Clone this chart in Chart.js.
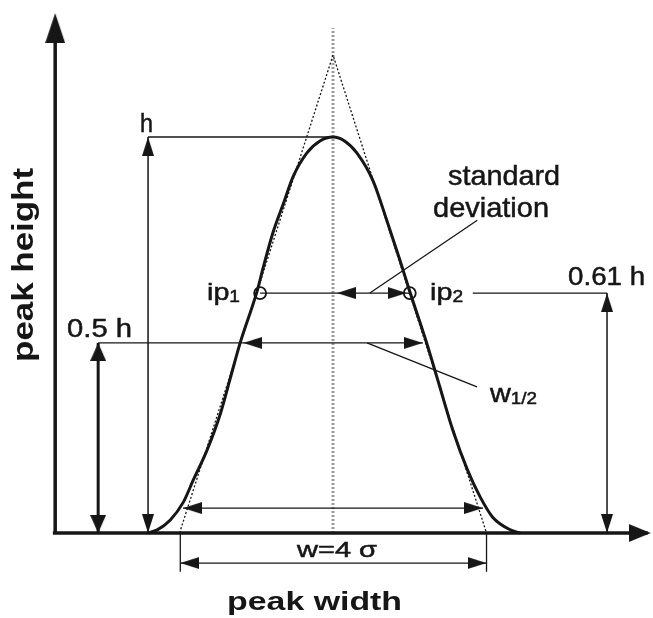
<!DOCTYPE html>
<html>
<head>
<meta charset="utf-8">
<script src="https://cdn.jsdelivr.net/npm/chart.js@4/dist/chart.umd.min.js"></script>
<style>
  html, body { margin: 0; padding: 0; background: #fff; }
  #wrap { width: 653px; height: 618px; }
</style>
</head>
<body>
<div id="wrap"><canvas id="peak_chart"></canvas></div>
<script>
// x is in units of sigma (0 = peak centre), y is in units of the peak height h
const curveX = [-2.42, -2.29, -2.12, -1.95, -1.82, -1.64, -1.47, -1.34, -1.21, -0.99, -0.91, -0.78, -0.65, -0.52, -0.34, -0.17, 0,
  0.15, 0.31, 0.52, 0.70, 0.87, 1.0, 1.22, 1.39, 1.56, 1.75, 1.92, 2.08, 2.31, 2.44];
const curveY = [0, 0.008, 0.033, 0.078, 0.134, 0.21, 0.30, 0.39, 0.48, 0.61, 0.67, 0.76, 0.83, 0.90, 0.96, 0.99, 1.0,
  0.99, 0.96, 0.89, 0.79, 0.69, 0.61, 0.48, 0.37, 0.26, 0.16, 0.09, 0.04, 0.008, 0];

const tangent = [[-2.0, 0], [0, 1.207], [2.0, 0]];
const centreLine = [[0, 0], [0, 1.275]];
const axisY = [[-3.62, 0], [-3.62, 1.27]];
const axisX = [[-3.65, 0], [4.1, 0]];

const hGuide = [[-2.41, 1.0], [0, 1.0]];
const hDim = [[-2.41, 1.0], [-2.41, 0]];
const halfGuide = [[-3.06, 0.48], [1.17, 0.48]];
const halfDim = [[-3.06, 0.48], [-3.06, 0]];
const ipGuide = [[-0.95, 0.606], [1.0, 0.606]];
const ipRightGuide = [[1.82, 0.606], [3.57, 0.606]];
const ipDim = [[3.57, 0.606], [3.57, 0]];
const sdLeader = [[1.88, 0.79], [0.48, 0.606]];
const halfLeader = [[0.443, 0.48], [1.876, 0.369]];
const baseDim = [[-1.954, 0.063], [1.954, 0.063]];
const wTickLeft = [[-1.99, 0], [-1.99, -0.098]];
const wTickRight = [[2.0, 0], [2.0, -0.098]];
const wDim = [[-1.99, -0.0758], [2.0, -0.0758]];

const inflections = [[-0.95, 0.606], [1.0, 0.606]];

// arrow tips: x, y, direction
const headsAxisY = [[-3.62, 1.313, 'up']];
const headsAxisX = [[4.14, 0, 'right']];
const headsBold = [[-3.06, 0.48, 'up'], [-3.06, 0, 'down']];
const headsThin = [
  [-2.41, 1.0, 'up'], [-2.41, 0, 'down'],
  [-1.17, 0.48, 'left'], [1.17, 0.48, 'right'],
  [0.05, 0.606, 'left'], [0.96, 0.606, 'right'],
  [3.57, 0.606, 'up'], [3.57, 0, 'down'],
  [-1.954, 0.063, 'left'], [1.954, 0.063, 'right'],
  [-1.99, -0.0758, 'left'], [2.0, -0.0758, 'right'],
];

const labelTexts = ['h', '0.5 h', 'ip', 'ip', 'standard', 'deviation', '0.61 h', 'w', 'w=4 σ', 'peak width', 'peak height'];
const labelSubs = ['', '', '1', '2', '', '', '', '1/2', '', '', ''];
const labelX = [-2.515, -3.466, -1.642, 1.264, 1.498, 1.303, 3.062, 2.046, -0.469, -1.381, -3.909];
const labelY = [1.0126, 0.495, 0.588, 0.588, 0.879, 0.798, 0.626, 0.331, -0.0606, -0.194, 0.677];

// size, fitted width (px), bold, rotated
const labelStyles = [
  { size: 25, width: 13 },
  { size: 26, width: 65 },
  { size: 24, width: 33, subSize: 16 },
  { size: 24, width: 33, subSize: 16 },
  { size: 28, width: 112 },
  { size: 28, width: 116 },
  { size: 26, width: 77 },
  { size: 26, width: 47, subSize: 17 },
  { size: 22, width: 80 },
  { size: 26, width: 175, bold: true },
  { size: 29, width: 194, bold: true, rotate: true, center: true },
];

const ink = '#161616';
const fontFamily = '"Liberation Sans", Arial, sans-serif';
const dirAngle = { up: 0, right: 90, down: 180, left: 270 };

function makeHead(len, wid) {
  const c = document.createElement('canvas');
  c.width = wid;
  c.height = len * 2;
  const g = c.getContext('2d');
  g.fillStyle = ink;
  g.beginPath();
  g.moveTo(wid / 2, len);
  g.lineTo(wid, len * 2);
  g.lineTo(0, len * 2);
  g.closePath();
  g.fill();
  return c;
}

const toPts = (arr) => arr.map(([x, y]) => ({ x, y }));

function seg(points, width, extra) {
  return Object.assign({
    data: toPts(points),
    borderColor: ink,
    borderWidth: width,
    pointRadius: 0,
    tension: 0,
    fill: false,
  }, extra || {});
}

function heads(list, canvas) {
  return {
    data: list.map(([x, y, dir]) => ({ x, y, dir })),
    showLine: false,
    pointStyle: canvas,
    pointRadius: 10,
    pointRotation: (c) => dirAngle[c.raw ? c.raw.dir : 'up'],
  };
}

const labelPlugin = {
  id: 'peakLabels',
  afterDatasetsDraw(chart) {
    const { ctx, scales: { x, y } } = chart;
    labelTexts.forEach((text, i) => {
      const st = labelStyles[i];
      const sub = labelSubs[i];
      const weight = st.bold ? 'bold ' : '';
      const mainFont = `${weight}${st.size}px ${fontFamily}`;
      const subFont = `${weight}${st.subSize || st.size}px ${fontFamily}`;
      ctx.save();
      ctx.font = mainFont;
      const wMain = ctx.measureText(text).width;
      ctx.font = subFont;
      const wSub = sub ? ctx.measureText(sub).width : 0;
      const sx = st.width / (wMain + wSub);
      ctx.translate(x.getPixelForValue(labelX[i]), y.getPixelForValue(labelY[i]));
      if (st.rotate) ctx.rotate(-Math.PI / 2);
      ctx.scale(sx, 1);
      const x0 = st.center ? -(wMain + wSub) / 2 : 0;
      ctx.fillStyle = ink;
      ctx.strokeStyle = ink;
      ctx.lineWidth = 0.5;
      ctx.textBaseline = 'alphabetic';
      ctx.textAlign = 'left';
      ctx.font = mainFont;
      ctx.fillText(text, x0, 0);
      if (!st.bold) ctx.strokeText(text, x0, 0);
      if (sub) {
        ctx.font = subFont;
        ctx.fillText(sub, x0 + wMain, 2);
        ctx.strokeText(sub, x0 + wMain, 2);
      }
      ctx.restore();
    });
  },
};

const chartContext = document.getElementById('peak_chart').getContext('2d');
const chart = new Chart(chartContext, {
  type: 'line',
  data: {
    datasets: [
      heads(headsAxisY, makeHead(30, 20)),
      heads(headsAxisX, makeHead(22, 18)),
      heads(headsBold, makeHead(18, 16)),
      heads(headsThin, makeHead(19, 12)),
      {
        data: toPts(inflections),
        showLine: false,
        pointStyle: 'circle',
        pointRadius: 6,
        pointBorderWidth: 1.8,
        pointBorderColor: ink,
        pointBackgroundColor: 'rgba(0,0,0,0)',
      },
      {
        data: curveX.map((x, i) => ({ x, y: curveY[i] })),
        borderColor: ink,
        borderWidth: 3,
        pointRadius: 0,
        cubicInterpolationMode: 'monotone',
        fill: false,
      },
      seg(axisY, 3.5),
      seg(axisX, 3.5),
      seg(hGuide, 1.3),
      seg(hDim, 1.5),
      seg(halfGuide, 1.3),
      seg(halfDim, 3),
      seg(ipGuide, 1.3),
      seg(ipRightGuide, 1.3),
      seg(ipDim, 1.5),
      seg(sdLeader, 1.3),
      seg(halfLeader, 1.3),
      seg(baseDim, 1.3),
      seg(wTickLeft, 1.3),
      seg(wTickRight, 1.3),
      seg(wDim, 1.3),
      seg(tangent, 1.3, { borderDash: [2, 2] }),
      seg(centreLine, 3, { borderDash: [2, 2], borderColor: '#9a9a9a' }),
    ],
  },
  options: {
    responsive: true,
    maintainAspectRatio: false,
    animation: false,
    events: [],
    layout: { padding: 0, autoPadding: false },
    plugins: { legend: { display: false }, tooltip: { enabled: false } },
    scales: {
      x: { type: 'linear', min: -4.339, max: 4.169, display: false },
      y: { type: 'linear', min: -0.2146, max: 1.346, display: false },
    },
  },
  plugins: [labelPlugin],
});
</script>
</body>
</html>
